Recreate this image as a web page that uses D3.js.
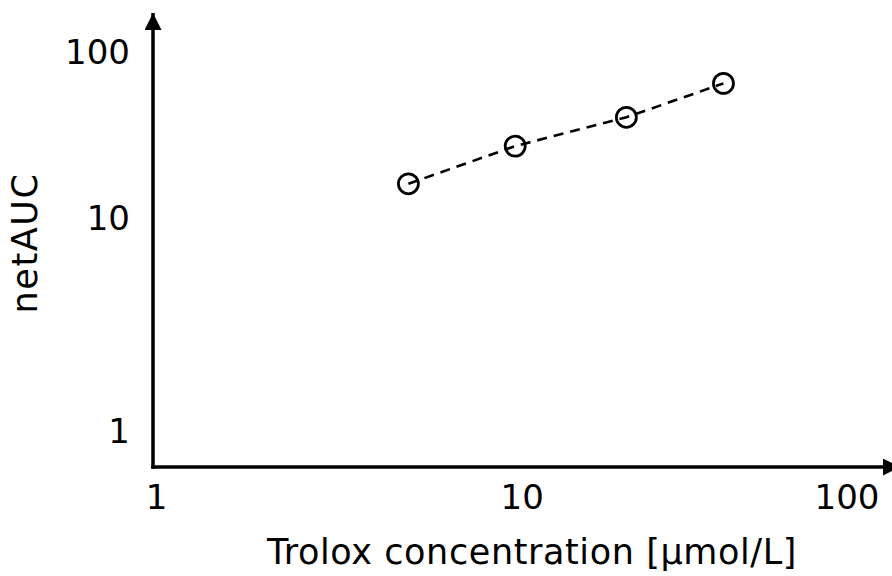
<!DOCTYPE html>
<html>
<head>
<meta charset="utf-8">
<script src="https://cdn.jsdelivr.net/npm/d3@7"></script>
<style>
  html, body { margin: 0; padding: 0; background: #fff; }
  svg { display: block; }
  text { font-family: "DejaVu Sans", Verdana, sans-serif; fill: #000; }
</style>
</head>
<body>
<svg id="chart" width="892" height="576"></svg>
<script>
// Trolox standard curve, log-log
const concentration = [4.9, 9.6, 21.0, 41.8];   // µmol/L
const netAUC        = [16.3, 27.5, 41.0, 65.6];
const xTicks = [1, 10, 100];
const yTicks = [1, 10, 100];
const xTitle = "Trolox concentration [µmol/L]";
const yTitle = "netAUC";

const svg = d3.select("#chart");
const origin = { x: 153, y: 467 };
const tickFont = 34;

// piecewise log scales (one segment per decade)
const x = d3.scaleLog().domain([1, 10, 100]).range([156, 521.7, 846.5]);
const y = d3.scaleLog().domain([1, 10, 100]).range([431.5, 219, 53]);

// arrow head
const defs = svg.append("defs");
defs.append("marker")
  .attr("id", "arrow")
  .attr("viewBox", "0 0 10 10")
  .attr("refX", 10).attr("refY", 5)
  .attr("markerUnits", "userSpaceOnUse")
  .attr("markerWidth", 17).attr("markerHeight", 17)
  .attr("orient", "auto")
  .append("path").attr("d", "M0,0L10,5L0,10Z").attr("fill", "#000");

// axis lines with arrows
svg.append("line")
  .attr("x1", origin.x).attr("y1", origin.y + 1.75)
  .attr("x2", origin.x).attr("y2", 13)
  .attr("stroke", "#000").attr("stroke-width", 3.5)
  .attr("marker-end", "url(#arrow)");
svg.append("line")
  .attr("x1", origin.x - 1.75).attr("y1", origin.y)
  .attr("x2", 900).attr("y2", origin.y)
  .attr("stroke", "#000").attr("stroke-width", 3.5)
  .attr("marker-end", "url(#arrow)");

// tick labels
const xAxis = d3.axisBottom(x).tickValues(xTicks).tickFormat(d3.format("d"))
  .tickSize(0).tickPadding(18);
const gx = svg.append("g").attr("transform", `translate(0,${origin.y})`).call(xAxis);
gx.select(".domain").remove();
gx.selectAll("text").attr("font-size", tickFont).attr("font-family", null).attr("fill", "#000");

const yAxis = d3.axisLeft(y).tickValues(yTicks).tickFormat(d3.format("d"))
  .tickSize(0).tickPadding(23);
const gy = svg.append("g").attr("transform", `translate(${origin.x},0)`).call(yAxis);
gy.select(".domain").remove();
gy.selectAll("text").attr("font-size", tickFont).attr("font-family", null).attr("fill", "#000");

// axis titles
svg.append("text")
  .attr("x", 532).attr("y", 564)
  .attr("text-anchor", "middle")
  .attr("font-size", 35)
  .attr("letter-spacing", 0.6)
  .text(xTitle);
svg.append("text")
  .attr("transform", `translate(37,243) rotate(-90)`)
  .attr("text-anchor", "middle")
  .attr("font-size", 35)
  .attr("letter-spacing", 1.6)
  .text(yTitle);

// data
const pts = concentration.map((c, i) => ({ c, v: netAUC[i] }));

svg.append("path")
  .datum(pts)
  .attr("fill", "none")
  .attr("stroke", "#000")
  .attr("stroke-width", 2.6)
  .attr("stroke-dasharray", "10,7")
  .attr("d", d3.line().x(d => x(d.c)).y(d => y(d.v)));

svg.selectAll("circle.pt")
  .data(pts)
  .join("circle")
  .attr("class", "pt")
  .attr("cx", d => x(d.c))
  .attr("cy", d => y(d.v))
  .attr("r", 10)
  .attr("fill", "none")
  .attr("stroke", "#000")
  .attr("stroke-width", 2.8);
</script>
</body>
</html>
